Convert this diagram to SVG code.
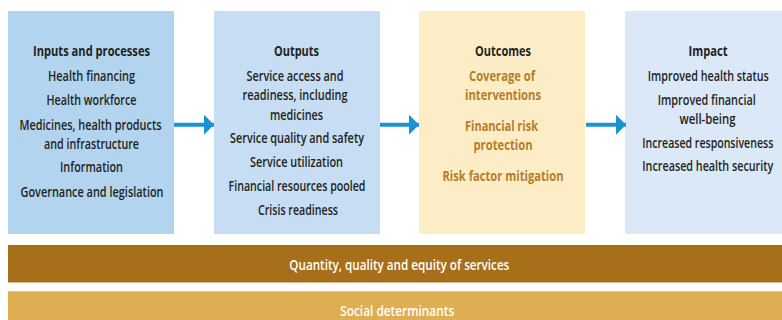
<svg xmlns="http://www.w3.org/2000/svg" width="782" height="320" viewBox="0 0 782 320">
<style>
text{font-family:"Open Sans","Liberation Sans",sans-serif;font-size:14.5px;text-anchor:middle;fill:#231f20;font-weight:600}
.t{font-weight:700}
.o{fill:#b57d2a;font-weight:700}
.w{fill:#ffffff;font-weight:600}
.arrow{stroke:#1a93d2;stroke-width:4;fill:none}
</style>
<defs>
<marker id="ah" markerUnits="userSpaceOnUse" markerWidth="10" markerHeight="20" refX="10" refY="10" orient="auto">
<path d="M0,0 L10,10 L0,20 Z" fill="#1a93d2"/>
</marker>
</defs>
<g id="inputs">
<rect x="8" y="11" width="166" height="223" fill="#b3d4ef"/>
<text class="t" transform="translate(91.5,56) scale(0.7,1)" textLength="167.1" lengthAdjust="spacingAndGlyphs">Inputs and processes</text>
<text transform="translate(91.5,81) scale(0.7,1)" textLength="124.3" lengthAdjust="spacingAndGlyphs">Health financing</text>
<text transform="translate(91.5,105) scale(0.7,1)" textLength="128.6" lengthAdjust="spacingAndGlyphs">Health workforce</text>
<text transform="translate(90.5,130) scale(0.7,1)" textLength="202.9" lengthAdjust="spacingAndGlyphs">Medicines, health products</text>
<text transform="translate(91.5,149) scale(0.7,1)" textLength="135.7" lengthAdjust="spacingAndGlyphs">and infrastructure</text>
<text transform="translate(91.5,172) scale(0.7,1)" textLength="90" lengthAdjust="spacingAndGlyphs">Information</text>
<text transform="translate(92,197) scale(0.7,1)" textLength="204.3" lengthAdjust="spacingAndGlyphs">Governance and legislation</text>
</g>
<g id="outputs">
<rect x="214" y="11" width="166" height="223" fill="#c6ddf3"/>
<text class="t" transform="translate(296.5,56) scale(0.7,1)" textLength="64.3" lengthAdjust="spacingAndGlyphs">Outputs</text>
<text transform="translate(295,81) scale(0.7,1)" textLength="138.6" lengthAdjust="spacingAndGlyphs">Service access and</text>
<text transform="translate(295,100) scale(0.7,1)" textLength="150" lengthAdjust="spacingAndGlyphs">readiness, including</text>
<text transform="translate(296.5,120) scale(0.7,1)" textLength="75.7" lengthAdjust="spacingAndGlyphs">medicines</text>
<text transform="translate(297,143) scale(0.7,1)" textLength="191.4" lengthAdjust="spacingAndGlyphs">Service quality and safety</text>
<text transform="translate(296.5,167) scale(0.7,1)" textLength="132.9" lengthAdjust="spacingAndGlyphs">Service utilization</text>
<text transform="translate(297,191) scale(0.7,1)" textLength="195.7" lengthAdjust="spacingAndGlyphs">Financial resources pooled</text>
<text transform="translate(298,215) scale(0.7,1)" textLength="114.3" lengthAdjust="spacingAndGlyphs">Crisis readiness</text>
</g>
<g id="outcomes">
<rect x="419" y="11" width="166" height="223" fill="#fcedc6"/>
<text class="t" transform="translate(503,56) scale(0.7,1)" textLength="80" lengthAdjust="spacingAndGlyphs">Outcomes</text>
<text class="o" transform="translate(502,81) scale(0.7,1)" textLength="94.3" lengthAdjust="spacingAndGlyphs">Coverage of</text>
<text class="o" transform="translate(503,100) scale(0.7,1)" textLength="108.6" lengthAdjust="spacingAndGlyphs">interventions</text>
<text class="o" transform="translate(501.5,131) scale(0.7,1)" textLength="104.3" lengthAdjust="spacingAndGlyphs">Financial risk</text>
<text class="o" transform="translate(503,150) scale(0.7,1)" textLength="84.3" lengthAdjust="spacingAndGlyphs">protection</text>
<text class="o" transform="translate(503,181) scale(0.7,1)" textLength="172.9" lengthAdjust="spacingAndGlyphs">Risk factor mitigation</text>
</g>
<g id="impact">
<rect x="625" y="11" width="157" height="223" fill="#dbe8f8"/>
<text class="t" transform="translate(708,56) scale(0.7,1)" textLength="55.7" lengthAdjust="spacingAndGlyphs">Impact</text>
<text transform="translate(708.3,81) scale(0.7,1)" textLength="172.9" lengthAdjust="spacingAndGlyphs">Improved health status</text>
<text transform="translate(706.7,105) scale(0.7,1)" textLength="140" lengthAdjust="spacingAndGlyphs">Improved financial</text>
<text transform="translate(707.5,124) scale(0.7,1)" textLength="80" lengthAdjust="spacingAndGlyphs">well-being</text>
<text transform="translate(707.8,148) scale(0.7,1)" textLength="187.1" lengthAdjust="spacingAndGlyphs">Increased responsiveness</text>
<text transform="translate(707.8,171) scale(0.7,1)" textLength="187.1" lengthAdjust="spacingAndGlyphs">Increased health security</text>
</g>
<g id="connectors">
<line class="arrow" x1="174" y1="124.7" x2="214" y2="124.7" marker-end="url(#ah)"/>
<line class="arrow" x1="380" y1="124.7" x2="419" y2="124.7" marker-end="url(#ah)"/>
<line class="arrow" x1="586" y1="124.7" x2="626" y2="124.7" marker-end="url(#ah)"/>
</g>
<g id="quantity">
<rect x="8" y="245" width="774" height="37.5" fill="#a86f1b"/>
<text class="w" transform="translate(399.3,270) scale(0.7,1)" textLength="314.3" lengthAdjust="spacingAndGlyphs">Quantity, quality and equity of services</text>
</g>
<g id="social">
<rect x="8" y="291.3" width="774" height="28.7" fill="#dfae52"/>
<text class="w" transform="translate(397.2,316) scale(0.7,1)" textLength="162.9" lengthAdjust="spacingAndGlyphs">Social determinants</text>
</g>
</svg>
